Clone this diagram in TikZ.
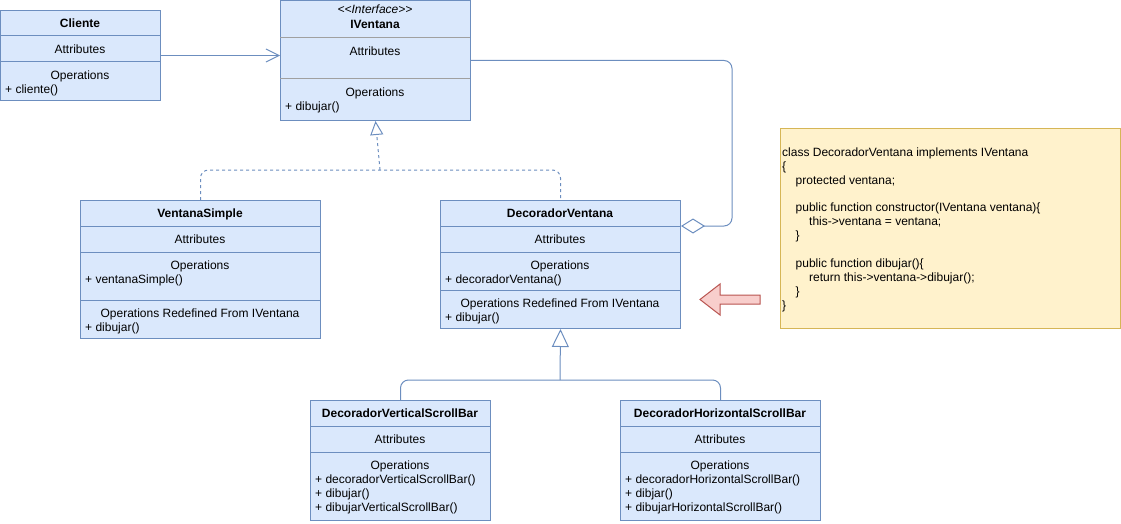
\documentclass[tikz,border=0pt]{standalone}
\usepackage{fontspec}
\setmainfont{Liberation Sans}
\usetikzlibrary{arrows.meta,positioning}
\definecolor{umlBlue} {HTML}{6C8EBF}
\definecolor{umlFill} {HTML}{DAE8FC}
\definecolor{sepGray} {HTML}{A0A0A0}
\definecolor{noteFill}{HTML}{FFF2CC}
\definecolor{noteLine}{HTML}{D6B656}
\definecolor{hintFill}{HTML}{F8CECC}
\definecolor{hintLine}{HTML}{B85450}

\begin{document}
\begin{tikzpicture}[
  x=1pt, y=-1pt,
  cls/.style={rectangle, draw=umlBlue, fill=umlFill, line width=1pt, anchor=north west, inner sep=0pt},
  sep/.style={umlBlue, line width=1pt},
  ttl/.style={font=\fontsize{12}{14}\selectfont\bfseries, anchor=base, inner sep=0pt},
  txt/.style={font=\fontsize{12}{14}\selectfont, anchor=base, inner sep=0pt},
  mth/.style={txt, anchor=base west},
  link/.style={umlBlue, line width=1pt, rounded corners=8pt},
  note/.style={rectangle, draw=noteLine, fill=noteFill, line width=1pt, anchor=north west, inner sep=0pt},
  codetxt/.style={font=\fontsize{12}{13.9}\selectfont, align=left, anchor=north west, inner sep=0pt}
]
\useasboundingbox (0,0) rectangle (1121,524);

% Cliente
\node[cls, minimum width=160, minimum height=90] (cli) at (0,10) {};
\draw[sep] (0,36) -- (160,36);
\draw[sep] (0,62) -- (160,62);
\node[ttl] at (80,27.5) {Cliente};
\node[txt] at (80,53.5) {Attributes};
\node[txt] at (80,79.5) {Operations};
\node[mth] at (5,93.5) {+ cliente()};

% IVentana
\node[cls, minimum width=190, minimum height=120] (iv) at (280,0) {};
\draw[sepGray, line width=1pt] (280,38) -- (470,38);
\draw[sepGray, line width=1pt] (280,79) -- (470,79);
\node[txt, font=\fontsize{12}{14}\selectfont\itshape] at (375,14) {<{}<Interface>{}>};
\node[ttl] at (375,29) {IVentana};
\node[txt] at (375,55.5) {Attributes};
\node[txt] at (375,96.5) {Operations};
\node[mth] at (285,110.5) {+ dibujar()};

% VentanaSimple
\node[cls, minimum width=240, minimum height=138] (vs) at (80,200) {};
\draw[sep] (80,226) -- (320,226);
\draw[sep] (80,252) -- (320,252);
\draw[sep] (80,300) -- (320,300);
\node[ttl] at (200,217.5) {VentanaSimple};
\node[txt] at (200,243.5) {Attributes};
\node[txt] at (200,269.5) {Operations};
\node[mth] at (85,283.5) {+ ventanaSimple()};
\node[txt] at (200,317.5) {Operations Redefined From IVentana};
\node[mth] at (85,331.5) {+ dibujar()};

% DecoradorVentana
\node[cls, minimum width=240, minimum height=128] (dv) at (440,200) {};
\draw[sep] (440,226) -- (680,226);
\draw[sep] (440,252) -- (680,252);
\draw[sep] (440,290) -- (680,290);
\node[ttl] at (560,217.5) {DecoradorVentana};
\node[txt] at (560,243.5) {Attributes};
\node[txt] at (560,269.5) {Operations};
\node[mth] at (445,283.5) {+ decoradorVentana()};
\node[txt] at (560,307.5) {Operations Redefined From IVentana};
\node[mth] at (445,321.5) {+ dibujar()};

% DecoradorVerticalScrollBar
\node[cls, minimum width=180, minimum height=120] (vsb) at (310,400) {};
\draw[sep] (310,426) -- (490,426);
\draw[sep] (310,452) -- (490,452);
\node[ttl] at (400,417.5) {DecoradorVerticalScrollBar};
\node[txt] at (400,443.5) {Attributes};
\node[txt] at (400,469.5) {Operations};
\node[mth] at (315,483.5) {+ decoradorVerticalScrollBar()};
\node[mth] at (315,497.5) {+ dibujar()};
\node[mth] at (315,511.5) {+ dibujarVerticalScrollBar()};

% DecoradorHorizontalScrollBar
\node[cls, minimum width=200, minimum height=120] (hsb) at (620,400) {};
\draw[sep] (620,426) -- (820,426);
\draw[sep] (620,452) -- (820,452);
\node[ttl] at (720,417.5) {DecoradorHorizontalScrollBar};
\node[txt] at (720,443.5) {Attributes};
\node[txt] at (720,469.5) {Operations};
\node[mth] at (625,483.5) {+ decoradorHorizontalScrollBar()};
\node[mth] at (625,497.5) {+ dibjar()};
\node[mth] at (625,511.5) {+ dibujarHorizontalScrollBar()};

% note with the code
\node[note, minimum width=340, minimum height=200] (code) at (780,128) {};
\node[codetxt] (codeT) at (782,147.4) {class DecoradorVentana implements IVentana\\
\{\\
\hspace*{13.5pt}protected ventana;\\
\mbox{}\\
\hspace*{13.5pt}public function constructor(IVentana ventana)\{\\
\hspace*{27pt}this->ventana = ventana;\\
\hspace*{13.5pt}\}\\
\mbox{}\\
\hspace*{13.5pt}public function dibujar()\{\\
\hspace*{27pt}return this->ventana->dibujar();\\
\hspace*{13.5pt}\}\\
\}};

% hint arrow
\draw[fill=hintFill, draw=hintLine, line width=1pt]
  (760,295) -- (720,295) -- (720,284) -- (700,299.5) -- (720,315) -- (720,304) -- (760,304) -- cycle;

% connectors
\draw[link, -{Straight Barb[length=13pt, width=13pt]}] (cli.east) -- (cli.east -| iv.west);
\draw[link, dashed] (vs.north) -- ++(0,-30) -| (dv.north);
\coordinate (genTop) at (380,170);
\draw[link, dashed, -{Triangle[open, length=14pt, width=13pt]}] (genTop) -- (iv.south);
\draw[link, {Diamond[open, length=24pt, width=15pt]}-] ([yshift=-26pt]dv.north east) -- ++(51,0) |- (iv.east);
\draw[link] (vsb.north) -- ++(0,-20) -| (hsb.north);
\coordinate (genBot) at (560,380);
\draw[link, -{Triangle[open, length=18pt, width=17pt]}] (genBot) -- (dv.south);
\end{tikzpicture}
\end{document}
